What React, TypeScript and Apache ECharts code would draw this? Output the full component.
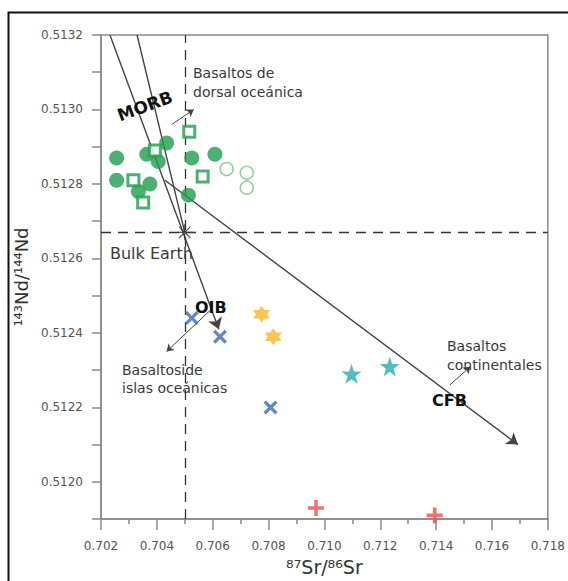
import React, { useEffect, useRef } from "react";
import * as echarts from "echarts";

// ---- axis ranges / ticks ----
const xRange = [0.702, 0.718];
const yRange = [0.5119, 0.5132];
const xTickStep = 0.002;
const yTickStep = 0.0001;

// ---- data (87Sr/86Sr, 143Nd/144Nd) ----
const morbFilled = [
  [0.70256, 0.51287], [0.70256, 0.51281], [0.70364, 0.51288], [0.70405, 0.51286],
  [0.70435, 0.51291], [0.70525, 0.51287], [0.70608, 0.51288], [0.70375, 0.5128],
  [0.70334, 0.51278], [0.70513, 0.51277],
];
const morbSquares = [
  [0.70516, 0.51294], [0.70393, 0.51289], [0.70316, 0.51281], [0.70564, 0.51282], [0.70351, 0.51275],
];
const morbOpen = [[0.7065, 0.51284], [0.70722, 0.51283], [0.70722, 0.51279]];
const oibCrosses = [[0.70525, 0.51244], [0.70626, 0.51239], [0.70807, 0.5122]];
const hexagrams = [[0.70775, 0.51245], [0.70817, 0.51239]];
const tealStars = [[0.71097, 0.51229], [0.71234, 0.51231]];
const redPlus = [[0.7097, 0.51193], [0.71395, 0.51191]];
const bulkEarth = [[0.705, 0.51267]];

// ---- trend lines ----
const morbLeftLine = [[0.70232, 0.5132], [0.70622, 0.51241]];
const morbRightLine = [[0.70329, 0.5132], [0.705, 0.51267]];
const cfbLine = [[0.70429, 0.51281], [0.71693, 0.5121]];
const morbNoteArrow = [[0.70454, 0.51296], [0.70532, 0.513]];
const oibNoteArrow = [[0.7059, 0.51246], [0.70435, 0.51235]];
const cfbNoteArrow = [[0.71449, 0.51226], [0.71523, 0.51231]];
const bulkVertical = [[0.705, 0.5119], [0.705, 0.5132]];
const bulkHorizontal = [[0.702, 0.51267], [0.718, 0.51267]];

const FONT = "DejaVu Sans";

const XPATH =
  "path://M3.6,0.4 L19.6,16.4 L16.4,19.6 L0.4,3.6 Z M16.4,0.4 L19.6,3.6 L3.6,19.6 L0.4,16.4 Z";
const PLUSPATH = "path://M8,1 L12,1 L12,8 L19,8 L19,12 L12,12 L12,19 L8,19 L8,12 L1,12 L1,8 L8,8 Z";
const HEXPATH = "path://M10,0 L18.66,15 L1.34,15 Z M10,20 L1.34,5 L18.66,5 Z";
const STARPATH =
  "path://M10,0 L12.245,6.91 L19.511,6.91 L13.633,11.18 L15.878,18.09 L10,13.82 L4.122,18.09 L6.367,11.18 L0.489,6.91 L7.755,6.91 Z";
const ASTERPATH =
  "path://M1,9.3 L19,9.3 L19,10.7 L1,10.7 Z M9.3,1 L10.7,1 L10.7,19 L9.3,19 Z M4.1,3.1 L16.9,15.9 L15.9,16.9 L3.1,4.1 Z M15.9,3.1 L16.9,4.1 L4.1,16.9 L3.1,15.9 Z";

function App() {
  const ref = useRef<HTMLDivElement>(null);
  useEffect(() => {
    if (!ref.current) return;
    const chart = echarts.init(ref.current, null, { renderer: "svg" });
    const lineSeries = (coords: number[][], opts: any) => ({
      type: "lines",
      coordinateSystem: "cartesian2d",
      silent: true,
      z: opts.z ?? 2,
      symbol: opts.arrow ? ["none", "arrow"] : ["none", "none"],
      symbolSize: opts.arrowSize ?? 9,
      lineStyle: {
        color: opts.color ?? "#444",
        width: opts.width ?? 1.4,
        type: opts.type ?? "solid",
        opacity: 1,
      },
      data: [{ coords }],
    });
    const textEl = (text: string, x: number, y: number, size: number, bold = false, extra: any = {}) => ({
      type: "text",
      x,
      y,
      z: 10,
      ...extra,
      style: {
        text,
        fill: bold ? "#111" : "#3a3a3a",
        font: `${bold ? "bold " : ""}${size}px '${FONT}'`,
        align: extra.align ?? "left",
        verticalAlign: "middle",
      },
    });
    chart.setOption({
      animation: false,
      backgroundColor: "#ffffff",
      grid: {
        left: 101,
        top: 35,
        right: 20,
        bottom: 53,
        show: true,
        borderColor: "#8a8a8a",
        borderWidth: 1.5,
        backgroundColor: "#ffffff",
      },
      xAxis: {
        type: "value",
        min: xRange[0],
        max: xRange[1],
        interval: xTickStep,
        name: "⁸⁷Sr/⁸⁶Sr",
        nameLocation: "middle",
        nameGap: 33,
        nameTextStyle: { fontFamily: FONT, fontSize: 19, color: "#333" },
        axisLine: { lineStyle: { color: "#8a8a8a", width: 1.5 } },
        axisTick: { show: true, length: 11, lineStyle: { color: "#8a8a8a", width: 1.5 } },
        minorTick: { show: true, splitNumber: 2, length: 5, lineStyle: { color: "#8a8a8a", width: 1.5 } },
        axisLabel: {
          margin: 21,
          fontFamily: FONT,
          fontSize: 12,
          color: "#555",
          formatter: (v: number) => v.toFixed(3),
        },
        splitLine: { show: false },
        minorSplitLine: { show: false },
      },
      yAxis: {
        type: "value",
        min: yRange[0],
        max: yRange[1],
        interval: yTickStep,
        name: "¹⁴³Nd/¹⁴⁴Nd",
        nameLocation: "middle",
        nameGap: 66,
        nameTextStyle: { fontFamily: FONT, fontSize: 18, color: "#333" },
        axisLine: { lineStyle: { color: "#8a8a8a", width: 1.5 } },
        axisTick: { show: true, length: 9, lineStyle: { color: "#8a8a8a", width: 1.5 } },
        axisLabel: {
          margin: 18,
          fontFamily: FONT,
          fontSize: 12,
          color: "#555",
          formatter: (v: number) => (Math.round(v * 10000) % 2 === 0 ? v.toFixed(4) : ""),
        },
        splitLine: { show: false },
      },
      graphic: [
        {
          type: "rect",
          z: -1,
          shape: { x: 8.5, y: 12.5, width: 700, height: 700 },
          style: { fill: "none", stroke: "#111", lineWidth: 2 },
        },
        textEl("MORB", 145, 106, 17, true, { rotation: (20 * Math.PI) / 180, align: "center" }),
        textEl("Basaltos de", 193, 73, 14),
        textEl("dorsal oceánica", 193, 92, 14),
        textEl("Bulk Earth", 110, 253, 16),
        textEl("OIB", 195, 307, 16, true),
        textEl("Basaltoside", 122, 370, 14),
        textEl("islas oceánicas", 122, 388, 14),
        textEl("Basaltos", 447, 346, 14),
        textEl("continentales", 447, 365, 14),
        textEl("CFB", 432, 400, 16, true),
      ],
      series: [
        lineSeries(bulkVertical, { type: [10, 7], color: "#333", width: 1.3, z: 1 }),
        lineSeries(bulkHorizontal, { type: [10, 7], color: "#333", width: 1.3, z: 1 }),
        lineSeries(morbLeftLine, { arrow: true, arrowSize: 11 }),
        lineSeries(morbRightLine, {}),
        lineSeries(cfbLine, { arrow: true, arrowSize: 11 }),
        lineSeries(morbNoteArrow, { arrow: true, width: 1, arrowSize: 7 }),
        lineSeries(oibNoteArrow, { arrow: true, width: 1, arrowSize: 7 }),
        lineSeries(cfbNoteArrow, { arrow: true, width: 1, arrowSize: 7 }),
        {
          type: "scatter",
          name: "Bulk Earth",
          data: bulkEarth,
          symbol: ASTERPATH,
          symbolSize: 16,
          itemStyle: { color: "#333" },
          z: 3,
        },
        {
          type: "scatter",
          data: morbFilled,
          symbol: "circle",
          symbolSize: 15,
          itemStyle: { color: "#1f9e4c" },
          z: 4,
        },
        {
          type: "scatter",
          data: morbSquares,
          symbol: "rect",
          symbolSize: 11,
          itemStyle: { color: "#ffffff", borderColor: "#1f9e4c", borderWidth: 3 },
          z: 5,
        },
        {
          type: "scatter",
          data: morbOpen,
          symbol: "circle",
          symbolSize: 13,
          itemStyle: { color: "#ffffff", borderColor: "#79c28b", borderWidth: 1.5 },
          z: 4,
        },
        {
          type: "scatter",
          data: oibCrosses,
          symbol: XPATH,
          symbolSize: 14,
          itemStyle: { color: "#3b68b8" },
          z: 4,
        },
        {
          type: "scatter",
          data: hexagrams,
          symbol: HEXPATH,
          symbolSize: 17,
          itemStyle: { color: "#f8b62a" },
          z: 4,
        },
        {
          type: "scatter",
          data: tealStars,
          symbol: STARPATH,
          symbolSize: 20,
          itemStyle: { color: "#27adb2" },
          z: 4,
        },
        {
          type: "scatter",
          data: redPlus,
          symbol: PLUSPATH,
          symbolSize: 16,
          itemStyle: { color: "#ef4d4d" },
          z: 4,
        },
      ],
    });
    return () => chart.dispose();
  }, []);
  return (
    <div
      ref={ref}
      style={{ position: "fixed", left: 0, top: 0, width: 568, height: 581 }}
    />
  );
}

export default App;
